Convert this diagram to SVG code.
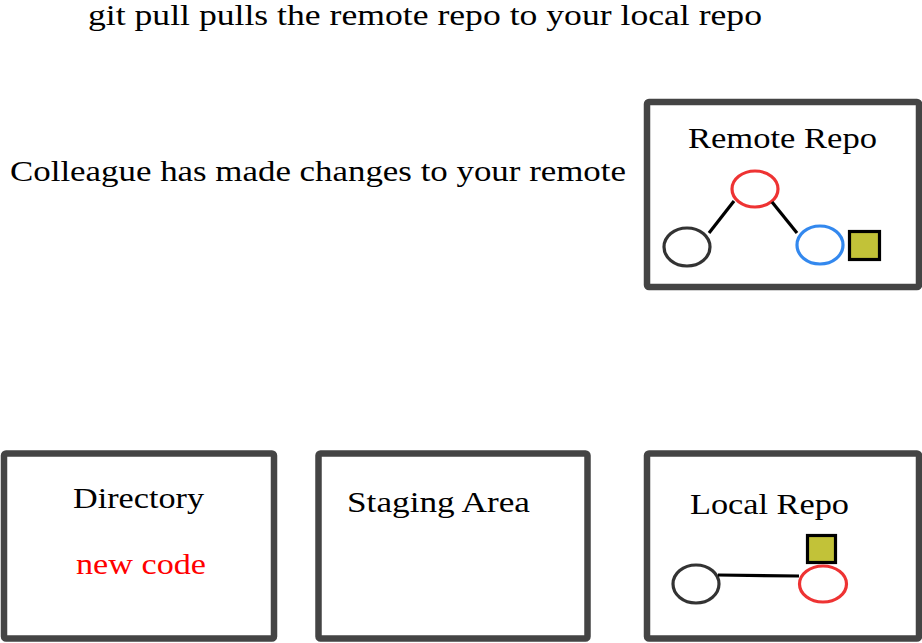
<svg xmlns="http://www.w3.org/2000/svg" width="922" height="643" viewBox="0 0 922 643">
<style>
text{font-family:"Liberation Serif","DejaVu Serif",serif;font-size:29px;fill:#000}
.box{fill:#fff;stroke:#444;stroke-width:6.5;stroke-linejoin:round}
.c{fill:none;stroke-width:3.2}
.blk{stroke:#333}
.red{stroke:#ee3333}
.blue{stroke:#3388ee}
.sq{fill:#c2c238;stroke:#000;stroke-width:3.2}
.ln{stroke:#000;stroke-width:3.2;fill:none}
</style>
<rect width="922" height="643" fill="#fff"/>
<g id="title"><text x="88" y="25" textLength="674" lengthAdjust="spacingAndGlyphs">git pull pulls the remote repo to your local repo</text></g>
<g id="note"><text x="10" y="181" textLength="616" lengthAdjust="spacingAndGlyphs">Colleague has made changes to your remote</text></g>
<g id="remote">
<rect class="box" x="647" y="102" width="272" height="185" rx="2"/>
<text x="688" y="148" textLength="189" lengthAdjust="spacingAndGlyphs">Remote Repo</text>
<ellipse class="c red" cx="755" cy="189" rx="23" ry="18"/>
<ellipse class="c blk" cx="687" cy="247" rx="23" ry="19"/>
<ellipse class="c blue" cx="820" cy="245" rx="23" ry="19"/>
<rect class="sq" x="849.5" y="231.5" width="30" height="28"/>
</g>
<g id="directory">
<rect class="box" x="4" y="453.5" width="270" height="185" rx="2"/>
<text x="73" y="508" textLength="131" lengthAdjust="spacingAndGlyphs">Directory</text>
<text x="76" y="574" textLength="130" lengthAdjust="spacingAndGlyphs" style="fill:#ff0000">new code</text>
</g>
<g id="staging">
<rect class="box" x="318.5" y="453.5" width="269" height="185" rx="2"/>
<text x="347" y="512" textLength="183" lengthAdjust="spacingAndGlyphs">Staging Area</text>
</g>
<g id="local">
<rect class="box" x="647" y="453.5" width="272" height="185" rx="2"/>
<text x="690" y="514" textLength="159" lengthAdjust="spacingAndGlyphs">Local Repo</text>
<ellipse class="c blk" cx="696" cy="584" rx="23" ry="19"/>
<ellipse class="c red" cx="823" cy="584" rx="23.5" ry="18"/>
<rect class="sq" x="807.5" y="535.5" width="28" height="27"/>
</g>
<g id="connectors">
<line class="ln" x1="709" y1="233" x2="734" y2="201"/>
<line class="ln" x1="772" y1="202" x2="797" y2="233"/>
<line class="ln" x1="718" y1="575" x2="799" y2="576"/>
</g>
</svg>
